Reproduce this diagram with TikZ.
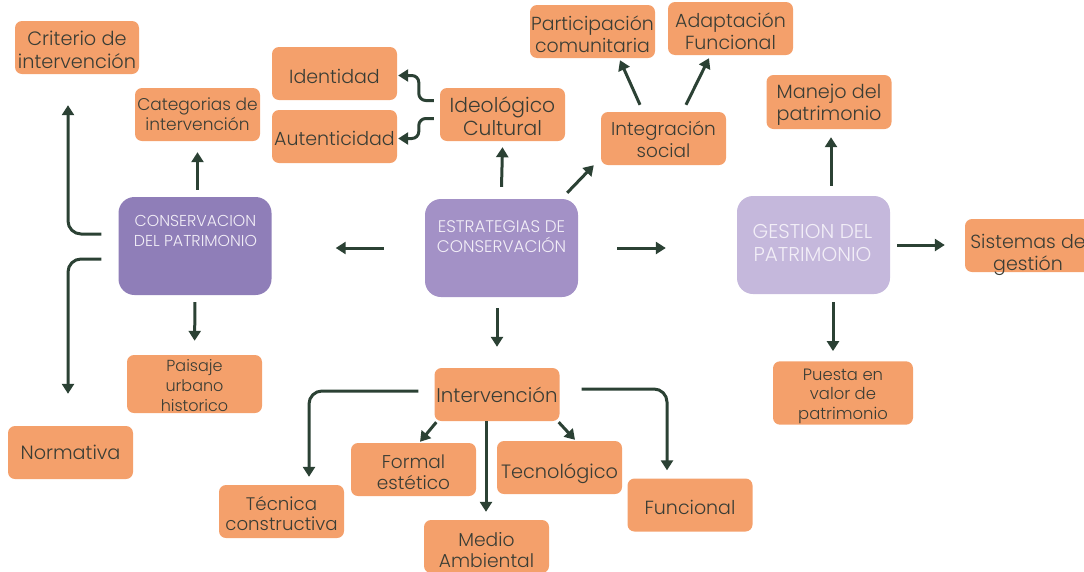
\documentclass[tikz,border=0pt]{standalone}
\usepackage{fontspec}
\setmainfont{Poppins}[UprightFont={* Light}]
\usetikzlibrary{arrows.meta,calc}
\definecolor{orng}{HTML}{F4A06B}
\definecolor{txt}{HTML}{3A3D35}
\definecolor{dgreen}{HTML}{2B4134}
\definecolor{pA}{HTML}{8F7EB8}
\definecolor{pB}{HTML}{A391C6}
\definecolor{pC}{HTML}{C5B8DC}
\definecolor{ptxt}{HTML}{F2EEF7}
\newcommand{\fs}[2]{\fontsize{#1}{#2}\selectfont}
\newcommand{\dn}[1]{\rule{0pt}{\dimexpr\fontcharht\font`d+#1\relax}}
\tikzset{
  obox/.style={fill=orng, rounded corners=7pt, text=txt, align=center,
    minimum width=125pt, minimum height=53pt, inner sep=1pt, font=\fs{17}{21}},
  otext/.style={text=txt, align=center, inner sep=0pt},
  pbox/.style={rounded corners=16pt, minimum width=153pt, minimum height=98pt, inner sep=0pt},
  ptext/.style={text=ptxt, align=center, inner sep=0pt},
  arr/.style={draw=dgreen, line width=3pt, -{Triangle[width=12pt,length=10pt]}},
  rarr/.style={arr, rounded corners=13pt}
}
\begin{document}
\begin{tikzpicture}[x=1pt,y=-1pt]
\useasboundingbox (0,0) rectangle (1084,571);
% purple boxes
\node[pbox, fill=pA] (cons) at (195,246) {};
\node[ptext, font=\fs{15.8}{20}] (consT) at ([xshift=0.5pt,yshift=15pt]cons.center) {CONSERVACION\\DEL PATRIMONIO};
\node[pbox, fill=pB] (estr) at (501.5,248) {};
\node[ptext, font=\fs{16.8}{19.5}] (estrT) at ([yshift=11.5pt]estr.center) {ESTRATEGIAS DE\\CONSERVACIÓN};
\node[pbox, fill=pC] (gest) at (813.5,245) {};
\node[ptext, font=\fs{20}{23}] (gestT) at ([xshift=-1pt,yshift=2.5pt]gest.center) {GESTION DEL\\PATRIMONIO};
% orange boxes
\node[obox, minimum width=124pt, font=\fs{19.3}{23}] (crit) at (77,47.5) {\dn{5pt}Criterio de\\intervención};
\node[obox, font=\fs{17}{20}] (cat) at (197.5,114.5) {Categorias de\\intervención};
\node[obox, font=\fs{19}{22}] (iden) at (334.5,73.5) {\dn{7pt}Identidad};
\node[obox, font=\fs{19}{22}] (aut) at (334.5,136.5) {\dn{5pt}Autenticidad};
\node[obox, font=\fs{20.3}{23}] (ideo) at (502.5,114.5) {\dn{5pt}Ideológico\\Cultural};
\node[obox, font=\fs{18.9}{22}] (part) at (592.5,31.5) {\dn{7pt}Participación\\comunitaria};
\node[obox, font=\fs{19}{21.5}] (adap) at (730.5,28.5) {\dn{7pt}Adaptación\\Funcional};
\node[obox, font=\fs{18.5}{22}] (integ) at (663.5,138.5) {\dn{2pt}Integración\\social};
\node[obox, minimum height=54pt, font=\fs{19.2}{22}] (manejo) at (829,102) {\dn{7pt}Manejo del\\patrimonio};
\node[obox, minimum width=130pt] (sist) at (1030,245.5) {};
\node[otext, font=\fs{19}{22}] (sistT) at ([xshift=-2pt,yshift=-9.5pt]sist.center) {Sistemas de\\gestión};
\node[obox, minimum width=140pt, minimum height=60pt, font=\fs{16.4}{19.5}] (puesta) at (843,393) {\dn{6pt}Puesta en\\valor de\\patrimonio};
\node[obox, minimum width=135pt, minimum height=58pt, font=\fs{16}{20}] (paisaje) at (194.5,384) {\dn{4pt}Paisaje\\urbano\\historico};
\node[obox, font=\fs{19.2}{22}] (norm) at (70.5,452.5) {Normativa};
\node[obox, font=\fs{19.8}{22}] (interv) at (497,394.5) {Intervención};
\node[obox, font=\fs{18.2}{20.5}] (tec) at (281.5,511.5) {\dn{5pt}Técnica\\constructiva};
\node[obox, font=\fs{18.5}{21}] (formal) at (413.5,469.5) {\dn{6pt}Formal\\estético};
\node[obox, font=\fs{19.3}{22}] (tecno) at (559.5,467.5) {\dn{14pt}Tecnológico};
\node[obox, font=\fs{19}{22}] (func) at (690,505) {\dn{6pt}Funcional};
\node[obox, font=\fs{18.7}{21.5}] (medio) at (486.5,546.5) {\dn{7pt}Medio\\Ambiental};
% connectors from Estrategias
\draw[arr] ([yshift=12pt]estr.north) -- ([yshift=-6pt]ideo.south);
\draw[arr] ([xshift=-11pt,yshift=6pt]estr.north east) -- ([xshift=-7pt]integ.south west);
\draw[arr, shorten <=41pt, shorten >=64pt] (estr.west) -- (estr.west -| cons.east);
\draw[arr, shorten <=39pt, shorten >=71pt] (estr.east) -- (estr.east -| gest.west);
\draw[arr, shorten <=11pt, shorten >=21pt] (estr.south -| interv.north) -- (interv.north);
% Ideologico
\draw[arr, rounded corners=7pt] ([xshift=-6pt,yshift=14pt]ideo.west) -- ++(-15,0) |- ([xshift=1pt,yshift=-2pt]iden.east);
\draw[arr, rounded corners=7pt] ([xshift=-6pt,yshift=-4pt]ideo.west) -- ++(-15,0) |- ([xshift=1pt,yshift=-2pt]aut.east);
% Integracion
\draw[arr] ([xshift=-23.5pt,yshift=7pt]integ.north) -- ([xshift=27.5pt,yshift=-2pt]part.south);
\draw[arr] ([xshift=22.5pt,yshift=7pt]integ.north) -- ([xshift=-21.5pt,yshift=-3pt]adap.south);
% Conservacion
\draw[arr, shorten <=7pt, shorten >=11pt] (cons.north -| cat.south) -- (cat.south);
\draw[rarr] ([xshift=-17pt,yshift=12pt]cons.west) -| ([xshift=-9pt,yshift=-31pt]crit.south);
\draw[rarr] ([xshift=-17pt,yshift=-13pt]cons.west) -| ([xshift=-2.5pt,yshift=32pt]norm.north);
\draw[arr, shorten <=7pt, shorten >=14pt] (cons.south) -- (paisaje.north);
% Gestion
\draw[arr, shorten <=10pt, shorten >=8pt] ([xshift=2pt]manejo.south |- gest.north) -- ([xshift=2pt]manejo.south);
\draw[arr, shorten <=7pt, shorten >=20pt] (gest.east) -- (gest.east -| sist.west);
\draw[arr] ([xshift=19.5pt,yshift=-8pt]gest.south) -- ([xshift=-10pt,yshift=10pt]puesta.north);
% Intervencion
\draw[rarr] ([xshift=-16pt,yshift=3.5pt]interv.west) -| ([xshift=27.5pt,yshift=8pt]tec.north);
\draw[arr] ([xshift=2pt,yshift=-1pt]interv.south west) -- ([xshift=6.5pt,yshift=1pt]formal.north);
\draw[arr] ([xshift=-11pt]interv.south) -- ([xshift=-0.5pt,yshift=8pt]medio.north);
\draw[arr] ([xshift=-1pt,yshift=-1pt]interv.south east) -- ([xshift=15.5pt,yshift=1pt]tecno.north);
\draw[rarr] ([xshift=22pt,yshift=5.5pt]interv.east) -| ([xshift=-23pt,yshift=8pt]func.north);
\end{tikzpicture}
\end{document}
